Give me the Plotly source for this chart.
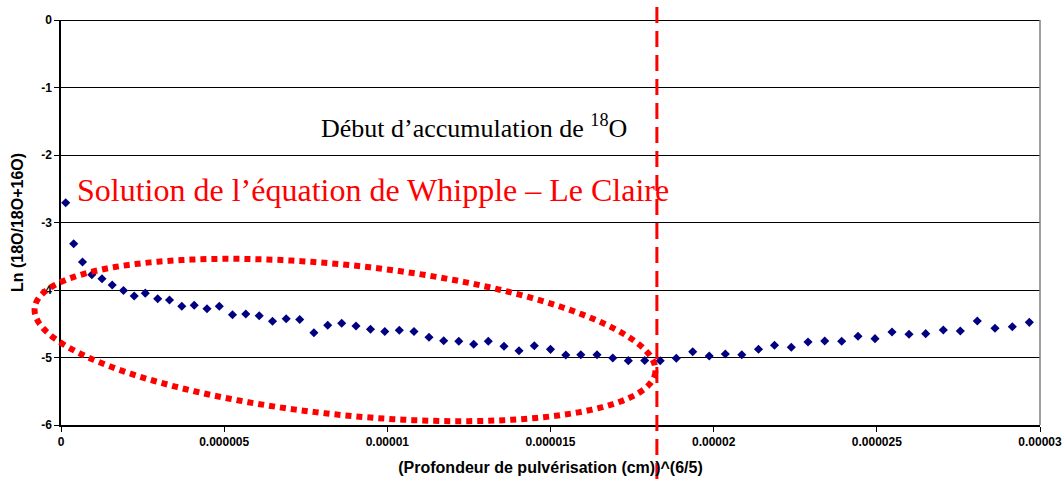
import numpy as np
import plotly.graph_objects as go

# Data
depth_pow = [0.144, 0.389, 0.659, 0.944, 1.256, 1.569, 1.915, 2.243, 2.583, 2.963,
             3.325, 3.702, 4.082, 4.474, 4.851, 5.255, 5.663, 6.074, 6.481, 6.901,
             7.315, 7.750, 8.173, 8.602, 9.040, 9.484, 9.922, 10.367, 10.817, 11.277,
             11.727, 12.190, 12.647, 13.094, 13.575, 14.035, 14.504, 15.000, 15.469, 15.929,
             16.425, 16.909, 17.385, 17.887, 18.362, 18.855, 19.358, 19.864, 20.357, 20.862,
             21.374, 21.864, 22.379, 22.891, 23.403, 23.923, 24.423, 24.944, 25.465, 25.986,
             26.497, 27.037, 27.558, 28.079, 28.621, 29.152, 29.673]
depth_pow = [v * 1e-6 for v in depth_pow]

ln_ratio = [-2.707, -3.314, -3.585, -3.773, -3.833, -3.926, -4.007, -4.089, -4.047, -4.129,
            -4.148, -4.241, -4.227, -4.277, -4.240, -4.367, -4.356, -4.381, -4.464, -4.425,
            -4.436, -4.633, -4.523, -4.493, -4.533, -4.582, -4.615, -4.597, -4.615, -4.699,
            -4.751, -4.759, -4.803, -4.760, -4.834, -4.901, -4.825, -4.879, -4.963, -4.959,
            -4.960, -5.007, -5.047, -5.044, -5.049, -5.010, -4.914, -4.978, -4.948, -4.960,
            -4.877, -4.819, -4.849, -4.770, -4.756, -4.760, -4.686, -4.721, -4.622, -4.656,
            -4.647, -4.593, -4.607, -4.459, -4.567, -4.544, -4.479]

x_tickvals = [0, 0.000005, 0.00001, 0.000015, 0.00002, 0.000025, 0.00003]
x_ticktext = ["0", "0.000005", "0.00001", "0.000015", "0.00002", "0.000025", "0.00003"]
y_tickvals = [0, -1, -2, -3, -4, -5, -6]
y_ticktext = ["0", "-1", "-2", "-3", "-4", "-5", "-6"]

accumulation_start = 1.826e-5

W, H = 1064, 479
ML, MR, MT, MB = 61, 24, 20, 54
PW, PH = W - ML - MR, H - MT - MB

fig = go.Figure()
fig.add_trace(go.Scatter(
    x=depth_pow, y=ln_ratio, mode="markers",
    marker=dict(symbol="diamond", size=7, color="#000080", line=dict(width=0)),
    showlegend=False, cliponaxis=False,
))

# Ellipse (annotation shape) in paper coordinates
cx, cy, a, b = 345.0, 340.0, 312.0, 75.0
theta = np.arctan2(64, 620)
t = np.linspace(0, 2 * np.pi, 200)
ex = cx + a * np.cos(t) * np.cos(theta) - b * np.sin(t) * np.sin(theta)
ey = cy + a * np.cos(t) * np.sin(theta) + b * np.sin(t) * np.cos(theta)
px = (ex - ML) / PW
py = (MT + PH - ey) / PH
path = "M " + " L ".join(f"{u:.5f},{v:.5f}" for u, v in zip(px, py)) + " Z"
fig.add_shape(type="path", path=path, xref="paper", yref="paper",
              line=dict(color="#FF0000", width=6, dash="6px,5px"), layer="above")

# Vertical dashed line
fig.add_shape(type="line", x0=accumulation_start, x1=accumulation_start,
              xref="x", yref="paper", y0=-(MB) / PH, y1=(PH + MT) / PH,
              line=dict(color="#FF0000", width=3, dash="16px,8px"), layer="above")

# Right border
fig.add_shape(type="line", x0=1, x1=1, y0=0, y1=1, xref="paper", yref="paper",
              line=dict(color="#808080", width=1.5))

fig.add_annotation(text="Début d’accumulation de <sup>18</sup>O",
                   xref="paper", yref="paper", x=(474 - ML) / PW, y=(MT + PH - 127) / PH,
                   xanchor="center", yanchor="middle", showarrow=False,
                   font=dict(family="Liberation Serif", size=26, color="black"))
fig.add_annotation(text="Solution de l’équation de Whipple – Le Claire",
                   xref="paper", yref="paper", x=(373 - ML) / PW, y=(MT + PH - 190) / PH,
                   xanchor="center", yanchor="middle", showarrow=False,
                   font=dict(family="Liberation Serif", size=32, color="#FF0000"))

tickfont = dict(family="Liberation Sans", size=12, color="black", weight="bold")
titlefont = dict(family="Liberation Sans", size=16, color="black", weight="bold")
fig.update_layout(
    width=W, height=H,
    margin=dict(l=ML, r=MR, t=MT, b=MB, autoexpand=False),
    plot_bgcolor="white", paper_bgcolor="white",
    xaxis=dict(range=[0, 3e-5], tickvals=x_tickvals,
               ticktext=[f"<b>{s}</b>" for s in x_ticktext],
               showgrid=False, zeroline=False, showline=True, linecolor="black", linewidth=1.5,
               ticks="outside", ticklen=5, tickcolor="black", tickfont=tickfont,
               title=dict(text="<b>(Profondeur de pulvérisation (cm))^(6/5)</b>", standoff=14,
                          font=titlefont),
               automargin=False),
    yaxis=dict(range=[-6, 0], tickvals=y_tickvals,
               ticktext=[f"<b>{s}</b>" for s in y_ticktext],
               showgrid=True, gridcolor="black", gridwidth=1,
               zeroline=True, zerolinecolor="black", zerolinewidth=1,
               showline=True, linecolor="black", linewidth=1.5,
               ticks="outside", ticklen=5, tickcolor="black", tickfont=tickfont,
               title=dict(text="<b>Ln (18O/18O+16O)</b>", standoff=14, font=titlefont),
               automargin=False),
)

fig.write_html("out.html", config={"displayModeBar": False},
               post_script="document.body.style.margin='0';")
